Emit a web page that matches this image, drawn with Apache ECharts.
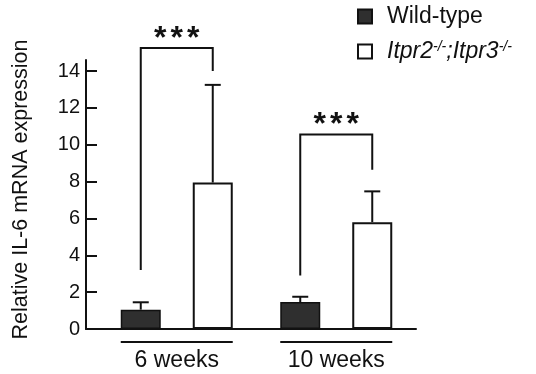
<!DOCTYPE html>
<html><head><meta charset="utf-8">
<script src="https://cdn.jsdelivr.net/npm/echarts@6/dist/echarts.min.js"></script>
<style>html,body{margin:0;padding:0;background:#fff}#c{width:536px;height:374px}</style>
</head><body><div id="c"></div>
<script>
// ---- data ----
const categories = ['6 weeks', '10 weeks'];
const seriesNames = ['Wild-type', 'Itpr2-/-;Itpr3-/-'];
const wtMean = [1.05, 1.46];
const wtErr = [0.40, 0.29];
const koMean = [7.95, 5.80];
const koErr = [5.30, 1.67];
const sigLeftFoot = [3.2, 2.9];
const sigRightFoot = [14.0, 8.65];
const sigTop = [15.25, 10.55];
const sigLabel = ['***', '***'];
const yTicks = [0, 2, 4, 6, 8, 10, 12, 14];
const yMax = 14.6;
const yTitle = 'Relative IL-6 mRNA expression';

// ---- layout / style ----
const FONT = "'Liberation Sans', Arial, Helvetica, sans-serif";
const INK = '#111';
const BAR_W = 40;
const BAR_GAP = 0.8;
const HALF_OFF = (BAR_W + BAR_W * BAR_GAP) / 2;

const chart = echarts.init(document.getElementById('c'), null, {renderer: 'canvas'});

function errItem(sign) {
  return function (params, api) {
    const c = api.value(0), v = api.value(1), e = api.value(2);
    const b = api.coord([c, v]);
    const t = api.coord([c, v + e]);
    const x = b[0] + sign * HALF_OFF;
    return {type: 'group', children: [
      {type: 'line', shape: {x1: x, y1: b[1], x2: x, y2: t[1]}, style: {stroke: INK, lineWidth: 2}},
      {type: 'line', shape: {x1: x - 8, y1: t[1], x2: x + 8, y2: t[1]}, style: {stroke: INK, lineWidth: 2}}
    ]};
  };
}

function bracketItem(params, api) {
  const c = api.value(0);
  const l = api.coord([c, api.value(1)]);
  const r = api.coord([c, api.value(2)]);
  const t = api.coord([c, api.value(3)]);
  const xl = l[0] - HALF_OFF, xr = r[0] + HALF_OFF;
  const label = sigLabel[params.dataIndex];
  const kids = [{type: 'polyline', shape: {points: [[xl, l[1]], [xl, t[1]], [xr, t[1]], [xr, r[1]]]},
    style: {stroke: INK, lineWidth: 2, fill: null}}];
  const cx = (xl + xr) / 2;
  for (let i = 0; i < label.length; i++) {
    kids.push({type: 'text', x: cx + (i - (label.length - 1) / 2) * 16.5, y: t[1] - 9,
      style: {text: label[i], font: 'bold 32px ' + FONT, fill: INK, align: 'center', verticalAlign: 'middle'}});
  }
  return {type: 'group', children: kids};
}

function underlineItem(params, api) {
  const c = api.value(0);
  const p = api.coord([c, 0]);
  const x1 = p[0] - HALF_OFF - BAR_W / 2, x2 = p[0] + HALF_OFF + BAR_W / 2;
  return {type: 'line', shape: {x1: x1, y1: p[1] + 13, x2: x2, y2: p[1] + 13}, style: {stroke: INK, lineWidth: 2}};
}

const option = {
  backgroundColor: '#fff',
  animation: false,
  textStyle: {fontFamily: FONT, color: INK},
  legend: {
    orient: 'vertical', left: 357, top: 5, padding: 0, itemWidth: 14, itemHeight: 14, itemGap: 12,
    icon: 'rect', data: seriesNames,
    textStyle: {fontSize: 23, color: INK, fontFamily: FONT, padding: [0, 0, 0, 10],
      rich: {
        i: {fontStyle: 'italic', fontSize: 23, fontFamily: FONT, color: INK, verticalAlign: 'middle'},
        s: {fontStyle: 'italic', fontSize: 14, fontFamily: FONT, color: INK, verticalAlign: 'top'}
      }},
    formatter: function (name) {
      if (name === seriesNames[0]) return name;
      return '{i|' + name.replace(/(-\/-)/g, '}{s|$1}{i|') + '}';
    }
  },
  grid: [
    {left: 97, top: 60, width: 319, height: 269},
    {left: 86, top: 60, width: 330, height: 269}
  ],
  xAxis: [
    {type: 'category', gridIndex: 0, data: categories,
      axisLine: {show: false}, axisTick: {show: false},
      axisLabel: {fontSize: 23, margin: 20, color: INK, fontFamily: FONT}},
    {type: 'value', gridIndex: 1, min: 0, max: 1,
      axisLine: {show: true, lineStyle: {color: INK, width: 2}},
      axisTick: {show: false}, axisLabel: {show: false}, splitLine: {show: false}}
  ],
  yAxis: [
    {type: 'value', gridIndex: 0, min: 0, max: yMax, offset: 11,
      name: yTitle, nameLocation: 'middle', nameGap: 54,
      nameTextStyle: {fontSize: 21.5, color: INK, fontFamily: FONT, padding: [0, 0, 0, 10]},
      axisLine: {show: true, lineStyle: {color: INK, width: 2}},
      axisTick: {show: true, inside: true, length: 11, customValues: yTicks, lineStyle: {color: INK, width: 2}},
      axisLabel: {customValues: yTicks, fontSize: 20, margin: 6, color: INK, fontFamily: FONT},
      splitLine: {show: false}},
    {type: 'value', gridIndex: 1, min: 0, max: 1, show: false}
  ],
  series: [
    {type: 'bar', name: seriesNames[0], xAxisIndex: 0, yAxisIndex: 0, data: wtMean,
      barWidth: BAR_W, barGap: (BAR_GAP * 100) + '%',
      itemStyle: {color: '#2f2f2f', borderColor: INK, borderWidth: 1.5}},
    {type: 'bar', name: seriesNames[1], xAxisIndex: 0, yAxisIndex: 0, data: koMean,
      barWidth: BAR_W, barGap: (BAR_GAP * 100) + '%',
      itemStyle: {color: '#fff', borderColor: INK, borderWidth: 2}},
    {type: 'custom', xAxisIndex: 0, yAxisIndex: 0, z: 5, renderItem: errItem(-1),
      data: wtMean.map((v, i) => [i, v, wtErr[i]])},
    {type: 'custom', xAxisIndex: 0, yAxisIndex: 0, z: 5, renderItem: errItem(1),
      data: koMean.map((v, i) => [i, v, koErr[i]])},
    {type: 'custom', xAxisIndex: 0, yAxisIndex: 0, z: 5, clip: false, renderItem: bracketItem,
      data: categories.map((c, i) => [i, sigLeftFoot[i], sigRightFoot[i], sigTop[i]])},
    {type: 'custom', xAxisIndex: 0, yAxisIndex: 0, z: 5, clip: false, renderItem: underlineItem,
      data: categories.map((c, i) => [i])}
  ]
};
chart.setOption(option);
</script>
</body></html>
